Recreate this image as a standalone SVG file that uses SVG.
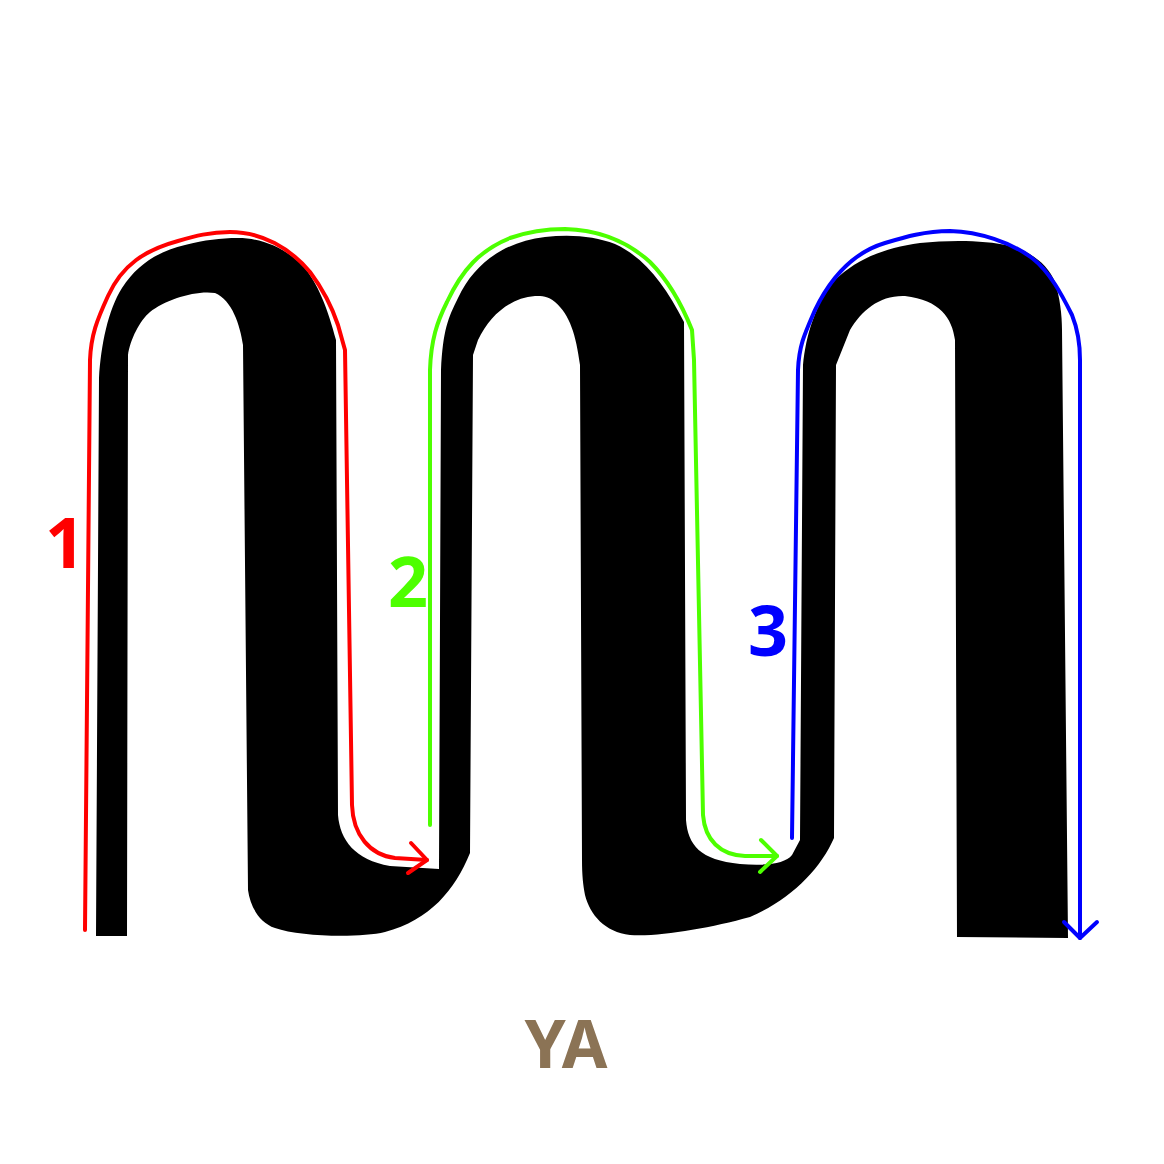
<svg xmlns="http://www.w3.org/2000/svg" width="1164" height="1164" viewBox="0 0 1164 1164">
<style>
.s{fill:none;stroke-width:4;stroke-linecap:round;stroke-linejoin:round}
.n{font-family:"Noto Sans","Open Sans",sans-serif;font-weight:bold;font-size:70px;text-anchor:middle}
</style>
<rect width="1164" height="1164" fill="#fff"/>
<g id="glyph">
<path fill="#000" d="M96,936 L99,378 C101,345 108,310 122,288 C138,263 160,251 185,245 C205,240 220,238 238,238 C262,238 285,248 302,265 C318,282 328,310 336,340 L338,815 C340,840 355,860 390,866 L439,869 L441,370 C443,330 448,318 458,298 C475,262 505,242 545,237 C570,234 595,236 615,244 C645,258 665,285 684,322 L686,820 C688,845 700,860 740,864 C765,866 785,864 792,855 L800,840 L803,365 C806,335 815,305 835,280 C858,258 885,248 920,243 C950,240 985,240 1010,246 C1032,252 1048,265 1055,282 C1060,298 1062,315 1062,330 L1068,938 L957,937 L955,340 C952,318 940,300 905,296 C880,295 862,310 850,330 L836,365 L834,838 C820,870 790,900 750,917 C710,928 660,937 630,935 C605,932 590,915 585,895 C583,885 582,875 582,860 L580,365 C576,335 570,315 555,302 C548,296 542,296 535,296 C510,298 490,315 478,340 L473,355 L470,853 C455,890 430,920 385,932 C360,938 300,937 275,928 C258,922 250,905 248,890 L243,345 C240,325 232,300 215,293 C195,290 165,300 150,312 C140,320 130,340 128,355 L127,936 Z"/>
</g>
<g id="connectors">
<g id="stroke1">
<path class="s" stroke="#ff0000" d="M85,930 L90,360 C91,335 97,320 108,296 C122,265 145,250 178,241 C195,236 210,232 230,232 C262,232 290,248 310,272 C325,292 333,310 338,325 L345,350 L352,805 C353,835 370,855 395,858 L427,860"/>
<path class="s" stroke="#ff0000" d="M411,843 L427,860 L408,873"/>
</g>
<g id="stroke2">
<path class="s" stroke="#4dff00" d="M430,825 L430,370 C431,340 437,322 447,302 C462,270 480,250 510,238 C530,231 545,229 565,229 C600,230 628,242 650,262 C670,282 684,310 692,330 L694,360 L703,815 C705,840 720,855 745,856 L777,856"/>
<path class="s" stroke="#4dff00" d="M761,840 L777,856 L760,872"/>
</g>
<g id="stroke3">
<path class="s" stroke="#0000ff" d="M792,838 L798,370 C799,345 805,333 815,310 C832,275 855,252 885,243 C905,237 925,231 950,231 C980,232 1010,242 1032,258 C1050,272 1062,295 1072,315 C1078,330 1080,345 1080,360 L1080,938"/>
<path class="s" stroke="#0000ff" d="M1064,922 L1080,938 L1097,922"/>
</g>
</g>
<text class="n" x="65" y="568" fill="#ff0000">1</text>
<text class="n" x="408" y="607" fill="#4dff00">2</text>
<text class="n" x="768" y="656" fill="#0000ff">3</text>
<text class="n" x="566" y="1068" fill="#8b7355" style="font-size:66px">YA</text>
</svg>
